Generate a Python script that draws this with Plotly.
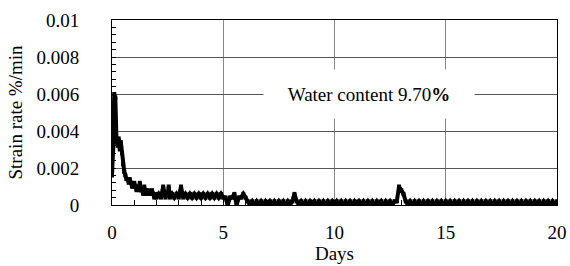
import plotly.graph_objects as go

# ---- data (days, strain rate %/min) ----
days_early = [0.00, 0.05, 0.10, 0.15, 0.20, 0.25, 0.30, 0.35, 0.40, 0.45,
              0.50, 0.55, 0.60, 0.65, 0.70, 0.75, 0.80, 0.85, 0.90, 0.95,
              1.00, 1.05, 1.10, 1.15, 1.20, 1.25, 1.30, 1.35, 1.40, 1.45,
              1.50, 1.55, 1.60, 1.65, 1.70, 1.75, 1.80, 1.85, 1.90, 1.95]
rate_early = [0.0016, 0.0030, 0.0060, 0.0058, 0.0036, 0.0032, 0.0036, 0.0030, 0.0034, 0.0028,
              0.0022, 0.0018, 0.0016, 0.0014, 0.0014, 0.0012, 0.0014, 0.0012, 0.0010, 0.0010,
              0.0012, 0.0010, 0.0008, 0.0010, 0.0008, 0.0012, 0.0008, 0.0008, 0.0006, 0.0010,
              0.0006, 0.0008, 0.0006, 0.0008, 0.0006, 0.0006, 0.0008, 0.0006, 0.0004, 0.0006]

days_mid = [2.0, 2.1, 2.2, 2.3, 2.4, 2.5, 2.55, 2.6, 2.7, 2.8, 2.9, 3.0, 3.1, 3.2, 3.3, 3.4,
            3.5, 3.6, 3.7, 3.8, 3.9, 4.0, 4.1, 4.2, 4.3, 4.4, 4.5, 4.6, 4.7, 4.8, 4.9, 5.0,
            5.1, 5.2, 5.3, 5.4, 5.5, 5.6, 5.7, 5.8, 5.9, 6.0, 6.1]
rate_mid = [0.0004, 0.0006, 0.0004, 0.0010, 0.0004, 0.0006, 0.0010, 0.0004, 0.0006, 0.0004,
            0.0006, 0.0004, 0.0010, 0.0004, 0.0006, 0.0004, 0.0006, 0.0004, 0.0006, 0.0004,
            0.0006, 0.0004, 0.0006, 0.0004, 0.0006, 0.0004, 0.0006, 0.0004, 0.0006, 0.0004,
            0.0006, 0.0004, 0.0004, 0.0000, 0.0004, 0.0004, 0.0006, 0.0000, 0.0004, 0.0004,
            0.0006, 0.0004, 0.0002]

days_late = [6.2, 6.3, 6.4, 6.5, 6.6, 6.7, 6.8, 6.9, 7.0, 7.1, 7.2, 7.3, 7.4, 7.5, 7.6, 7.7,
             7.8, 7.9, 8.0, 8.1, 8.2, 8.3, 8.4, 8.5, 8.6, 8.7, 8.8, 8.9, 9.0, 9.1, 9.2, 9.3,
             9.4, 9.5, 9.6, 9.7, 9.8, 9.9, 10.0, 10.1, 10.2, 10.3, 10.4, 10.5, 10.6, 10.7,
             10.8, 10.9, 11.0, 11.1, 11.2, 11.3, 11.4, 11.5, 11.6, 11.7, 11.8, 11.9, 12.0,
             12.1, 12.2, 12.3, 12.4, 12.5, 12.6, 12.7, 12.8, 12.9, 13.0, 13.1, 13.2, 13.3,
             13.4, 13.5, 13.6, 13.7, 13.8, 13.9, 14.0, 14.1, 14.2, 14.3, 14.4, 14.5, 14.6,
             14.7, 14.8, 14.9, 15.0, 15.1, 15.2, 15.3, 15.4, 15.5, 15.6, 15.7, 15.8, 15.9,
             16.0, 16.1, 16.2, 16.3, 16.4, 16.5, 16.6, 16.7, 16.8, 16.9, 17.0, 17.1, 17.2,
             17.3, 17.4, 17.5, 17.6, 17.7, 17.8, 17.9, 18.0, 18.1, 18.2, 18.3, 18.4, 18.5,
             18.6, 18.7, 18.8, 18.9, 19.0, 19.1, 19.2, 19.3, 19.4, 19.5, 19.6, 19.7, 19.8,
             19.9, 20.0]
rate_late = [0.0000, 0.0002, 0.0000, 0.0002, 0.0000, 0.0002, 0.0000, 0.0002, 0.0000, 0.0002,
             0.0000, 0.0002, 0.0000, 0.0002, 0.0000, 0.0002, 0.0000, 0.0002, 0.0000, 0.0002,
             0.0006, 0.0002, 0.0000, 0.0002, 0.0000, 0.0002, 0.0000, 0.0002, 0.0000, 0.0002,
             0.0000, 0.0002, 0.0000, 0.0002, 0.0000, 0.0002, 0.0000, 0.0002, 0.0000, 0.0002,
             0.0000, 0.0002, 0.0000, 0.0002, 0.0000, 0.0002, 0.0000, 0.0002, 0.0000, 0.0002,
             0.0000, 0.0002, 0.0000, 0.0002, 0.0000, 0.0002, 0.0000, 0.0002, 0.0000, 0.0002,
             0.0000, 0.0002, 0.0000, 0.0002, 0.0000, 0.0002, 0.0002, 0.0010, 0.0008, 0.0006,
             0.0002, 0.0000, 0.0002, 0.0000, 0.0002, 0.0000, 0.0002, 0.0000, 0.0002, 0.0000,
             0.0002, 0.0000, 0.0002, 0.0000, 0.0002, 0.0000, 0.0002, 0.0000, 0.0002, 0.0000,
             0.0002, 0.0000, 0.0002, 0.0000, 0.0002, 0.0000, 0.0002, 0.0000, 0.0002, 0.0000,
             0.0002, 0.0000, 0.0002, 0.0000, 0.0002, 0.0000, 0.0002, 0.0000, 0.0002, 0.0000,
             0.0002, 0.0000, 0.0002, 0.0000, 0.0002, 0.0000, 0.0002, 0.0000, 0.0002, 0.0000,
             0.0002, 0.0000, 0.0002, 0.0000, 0.0002, 0.0000, 0.0002, 0.0000, 0.0002, 0.0000,
             0.0002, 0.0000, 0.0002, 0.0000, 0.0002, 0.0000, 0.0002, 0.0000, 0.0002]

days = days_early + days_mid + days_late
rate = rate_early + rate_mid + rate_late

x_ticks = [0, 5, 10, 15, 20]
y_ticks = [0, 0.002, 0.004, 0.006, 0.008, 0.01]
y_tick_text = ["0", "0.002", "0.004", "0.006", "0.008", "0.01"]
series_name = "Water content 9.70<b>%</b>"

FONT = "Liberation Serif, Times New Roman, serif"
FS = 19

fig = go.Figure()
fig.add_trace(go.Scatter(
    x=days, y=rate, mode="lines+markers", name=series_name,
    line=dict(color="black", width=4),
    marker=dict(symbol="square", size=4, color="black"),
    showlegend=False,
))

fig.add_annotation(
    x=0.577, y=0.6, xref="paper", yref="paper",
    text=series_name, showarrow=False,
    font=dict(family=FONT, size=FS, color="black"),
    bgcolor="white", width=208, height=46,
    xanchor="center", yanchor="middle",
)

fig.update_layout(
    width=570, height=266,
    margin=dict(l=112, r=13, t=20, b=61),
    plot_bgcolor="white", paper_bgcolor="white",
    font=dict(family=FONT, size=FS, color="black"),
    xaxis=dict(
        range=[0, 20], tickvals=x_ticks, ticktext=[str(v) for v in x_ticks],
        showgrid=True, gridcolor="#888888", gridwidth=1,
        showline=True, linecolor="black", linewidth=1, mirror=True,
        ticks="inside", ticklen=5, tickcolor="black",
        minor=dict(dtick=1, ticks="inside", ticklen=5, tickcolor="black", showgrid=False),
        title=dict(text="Days", font=dict(family=FONT, size=FS), standoff=2),
        zeroline=False, ticklabelstandoff=10, automargin=False,
    ),
    yaxis=dict(
        range=[0, 0.01], tickvals=y_ticks, ticktext=y_tick_text,
        showgrid=True, gridcolor="#555555", gridwidth=1,
        showline=True, linecolor="black", linewidth=1, mirror=True,
        ticks="inside", ticklen=4, tickcolor="black",
        minor=dict(dtick=0.0004, tick0=0, ticks="inside", ticklen=4, tickcolor="black", showgrid=False),
        title=dict(text="Strain rate %/min", font=dict(family=FONT, size=FS), standoff=8),
        zeroline=False, ticklabelstandoff=28, automargin=False,
    ),
)

fig.write_html("out.html", config={"displayModeBar": False},
               post_script="document.body.style.margin='0';")
